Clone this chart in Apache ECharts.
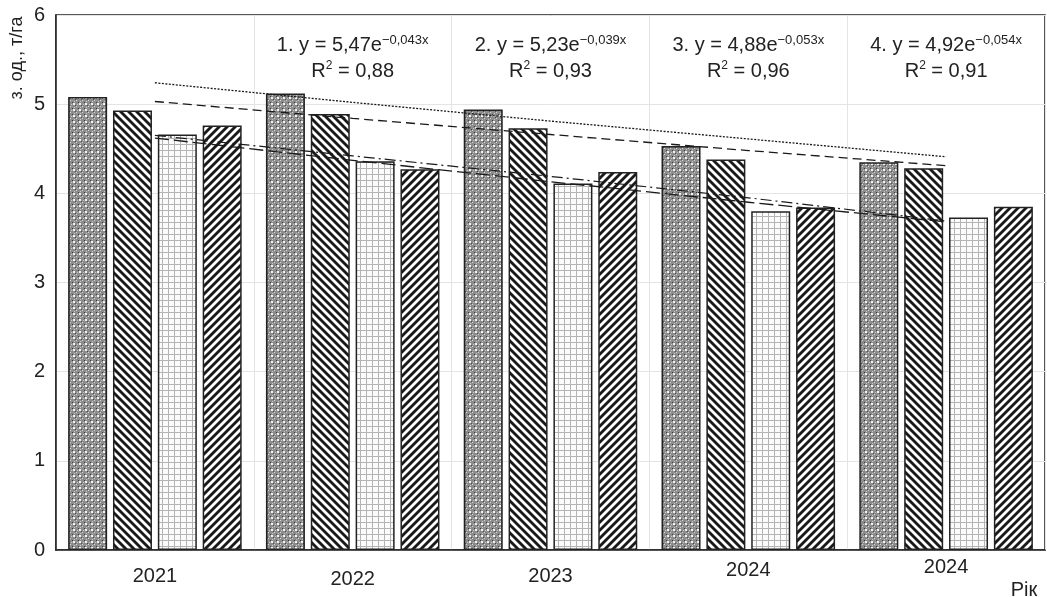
<!DOCTYPE html>
<html>
<head>
<meta charset="utf-8">
<script src="https://cdn.jsdelivr.net/npm/echarts@6/dist/echarts.min.js"></script>
<style>
  html, body { margin: 0; padding: 0; background: #fff; }
  #chart { width: 1047px; height: 597px; }
</style>
</head>
<body>
<div id="chart"></div>
<script>
// дані
const categories = ['2021', '2022', '2023', '2024', '2024']
const series1 = [5.08, 5.12, 4.94, 4.53, 4.35]
const series2 = [4.93, 4.89, 4.73, 4.38, 4.28]
const series3 = [4.66, 4.36, 4.11, 3.80, 3.73]
const series4 = [4.76, 4.27, 4.24, 3.84, 3.85]
// лінії тренду
const trend1 = [5.24, 5.02, 4.81, 4.61, 4.41]
const trend2 = [5.03, 4.84, 4.66, 4.48, 4.31]
const trend3 = [4.62, 4.37, 4.13, 3.90, 3.68]
const trend4 = [4.65, 4.42, 4.19, 3.95, 3.69]
const yTicks = [0, 1, 2, 3, 4, 5, 6]
const equations = [
  { num: '1.', a: '5,47', k: '−0,043x', r2: '0,88' },
  { num: '2.', a: '5,23', k: '−0,039x', r2: '0,93' },
  { num: '3.', a: '4,88', k: '−0,053x', r2: '0,96' },
  { num: '4.', a: '4,92', k: '−0,054x', r2: '0,91' }
]
// зсув підписів осі X (у рисунку вони стоять нерівно)
const labelShift = [9, 12, 9, 3, 0]

const FONT = '"Liberation Sans", Arial, sans-serif'
const TEXT = '#222'
const FS = 20

// текстури для стовпців
const makeTile = (size, painter) => {
  const c = document.createElement('canvas')
  c.width = size
  c.height = size
  const ctx = c.getContext('2d')
  painter(ctx, size)
  return c
}

const px = (ctx, x, y, col) => {
  ctx.fillStyle = col
  ctx.fillRect(x, y, 1, 1)
}

const texture1 = makeTile(6, (ctx, s) => {
  ctx.fillStyle = '#8c8c8c'
  ctx.fillRect(0, 0, s, s)
  ctx.fillStyle = '#f2f2f2'
  ctx.fillRect(1, 1, 2, 2)
  px(ctx, 4, 4, '#d8d8d8')
  px(ctx, 0, 0, '#3c3c3c')
  px(ctx, 3, 3, '#4a4a4a')
  px(ctx, 5, 2, '#c8c8c8')
  px(ctx, 2, 5, '#c8c8c8')
})

const stripes = (dir) => makeTile(8, (ctx, s) => {
  ctx.fillStyle = '#fff'
  ctx.fillRect(0, 0, s, s)
  for (let x = 0; x < s; x++) {
    for (let y = 0; y < s; y++) {
      const v = dir > 0 ? (x + y) % s : ((x - y) % s + s) % s
      if (v < 3) px(ctx, x, y, '#1a1a1a')
      else if (v === 3 || v === 7) px(ctx, x, y, '#888')
    }
  }
})

const texture2 = stripes(-1)
const texture4 = stripes(1)

const texture3 = makeTile(6, (ctx, s) => {
  ctx.fillStyle = '#fbfbfb'
  ctx.fillRect(0, 0, s, s)
  ctx.fillStyle = '#b4b4b4'
  ctx.fillRect(0, 0, s, 1)
  ctx.fillRect(0, 0, 1, s)
})

const gridBox = { left: 56, right: 2, top: 15, bottom: 47 }
const plotW = 1047 - gridBox.left - gridBox.right

const barSeries = (data, tex) => ({
  type: 'bar',
  data: data,
  barWidth: 39,
  barGap: '15%',
  itemStyle: {
    color: { image: tex, repeat: 'repeat' },
    borderColor: '#222',
    borderWidth: 1.5
  },
  silent: true
})

const trendSeries = (data, dash, width) => ({
  type: 'line',
  data: data,
  symbol: 'none',
  z: 5,
  lineStyle: { color: '#1a1a1a', width: width, type: dash },
  silent: true
})

const equationText = () => {
  const items = []
  equations.forEach((e, i) => {
    const cx = gridBox.left + plotW / 5 * (i + 1.5)
    items.push({
      type: 'text',
      x: cx,
      y: 45,
      style: {
        text: `{b|${e.num} y = ${e.a}e}{s|${e.k}}`,
        align: 'center',
        verticalAlign: 'middle',
        rich: {
          b: { fontFamily: FONT, fontSize: FS, fill: TEXT, lineHeight: 24, verticalAlign: 'middle' },
          s: { fontFamily: FONT, fontSize: 13, fill: TEXT, lineHeight: 13, verticalAlign: 'middle', padding: [0, 0, 9, 0] }
        }
      }
    })
    items.push({
      type: 'text',
      x: cx,
      y: 71,
      style: {
        text: `{b|R}{s|2}{b| = ${e.r2}}`,
        align: 'center',
        verticalAlign: 'middle',
        rich: {
          b: { fontFamily: FONT, fontSize: FS, fill: TEXT, lineHeight: 24, verticalAlign: 'middle' },
          s: { fontFamily: FONT, fontSize: 12, fill: TEXT, lineHeight: 12, verticalAlign: 'middle', padding: [0, 0, 10, 0] }
        }
      }
    })
  })
  return items
}

const chart = echarts.init(document.getElementById('chart'))

const option = {
  backgroundColor: '#fff',
  animation: false,
  grid: {
    left: gridBox.left,
    right: gridBox.right,
    top: gridBox.top,
    bottom: gridBox.bottom,
    show: true,
    backgroundColor: 'transparent',
    borderColor: '#222',
    borderWidth: 1.5,
    containLabel: false
  },
  xAxis: {
    type: 'category',
    data: categories,
    axisLine: { lineStyle: { color: '#222', width: 1.5 } },
    axisTick: { show: false },
    splitLine: { show: true, lineStyle: { color: '#e4e4e4', width: 1 } },
    axisLabel: {
      margin: 7,
      interval: 0,
      formatter: (val, idx) => `{l${idx}|${val}}`,
      rich: Object.fromEntries(labelShift.map((p, i) => [
        'l' + i,
        { fontFamily: FONT, fontSize: FS, color: TEXT, padding: [p, 0, 0, 0] }
      ]))
    }
  },
  yAxis: {
    type: 'value',
    min: yTicks[0],
    max: yTicks[yTicks.length - 1],
    interval: 1,
    axisLine: { show: true, lineStyle: { color: '#222', width: 1.5 } },
    axisTick: { show: false },
    splitLine: { lineStyle: { color: '#e4e4e4', width: 1 } },
    axisLabel: {
      margin: 11,
      fontFamily: FONT,
      fontSize: FS,
      color: TEXT,
      formatter: (v) => (yTicks.includes(v) ? String(v) : '')
    }
  },
  series: [
    barSeries(series1, texture1),
    barSeries(series2, texture2),
    barSeries(series3, texture3),
    barSeries(series4, texture4),
    trendSeries(trend1, [2, 1.5], 1.3),
    trendSeries(trend2, [9, 5], 1.3),
    trendSeries(trend3, [14, 5], 1.3),
    trendSeries(trend4, [11, 4, 2, 4], 1.2)
  ],
  graphic: [
    {
      type: 'text',
      x: 17,
      y: 58,
      rotation: Math.PI / 2,
      style: {
        text: 'з. од., т/га',
        fontFamily: FONT,
        fontSize: 18,
        fill: TEXT,
        align: 'center',
        verticalAlign: 'middle'
      }
    },
    {
      type: 'text',
      x: 1024,
      y: 590,
      style: {
        text: 'Рік',
        fontFamily: FONT,
        fontSize: FS,
        fill: TEXT,
        align: 'center',
        verticalAlign: 'middle'
      }
    },
    ...equationText()
  ]
}

chart.setOption(option)
</script>
</body>
</html>
